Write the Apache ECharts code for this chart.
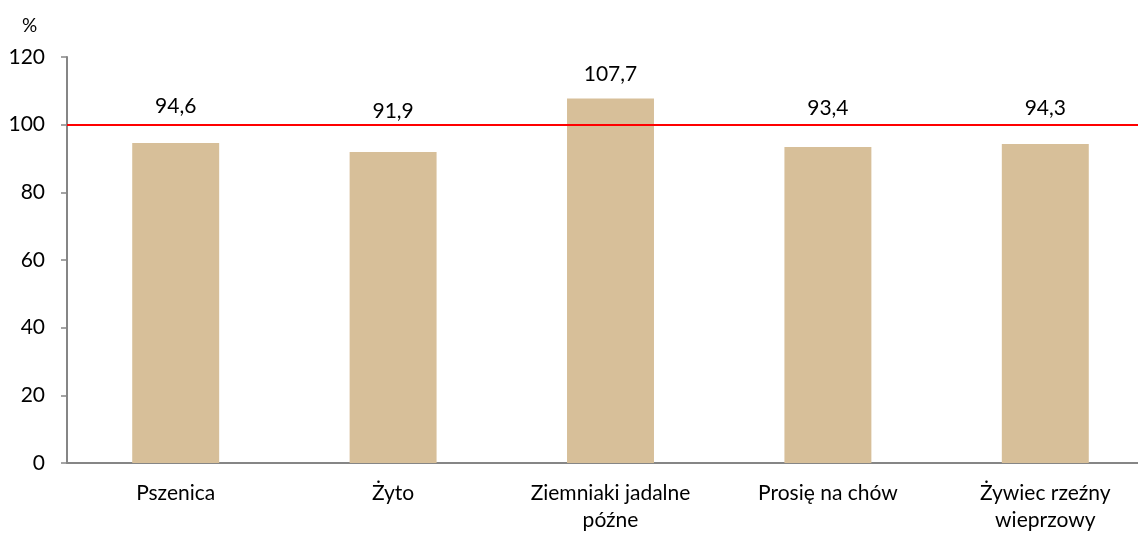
<!DOCTYPE html>
<html>
  <head>
    <meta charset="utf-8" />
    <title>ECharts</title>
    <script src="https://cdn.jsdelivr.net/npm/echarts@6/dist/echarts.min.js"></script>
    <style>
      html, body { margin: 0; padding: 0; background: #fff; overflow: hidden; }
    </style>
  </head>
  <body>
    <!-- wykres jest przycięty z prawej, tak jak w oryginale -->
    <div id="main" style="width: 1154px;height:534px;"></div>
    <script type="text/javascript">
        // dane
        var categories = ['Pszenica', 'Żyto', 'Ziemniaki jadalne\npóźne', 'Prosię na chów', 'Żywiec rzeźny\nwieprzowy'];
        var values = [94.6, 91.9, 107.7, 93.4, 94.3];
        var yTicks = [0, 20, 40, 60, 80, 100, 120];
        var referenceLevel = 100;

        // odstęp etykiet od słupka (styl, nie dane)
        var labelGap = [26, 30, 14, 28, 25];

        var font = 'Lato';
        var fs = 21;
        var myChart = echarts.init(document.getElementById('main'));

        var barData = values.map(function (v, i) {
            return { value: v, label: { distance: labelGap[i] } };
        });

        var option = {
            animation: false,
            textStyle: { fontFamily: font },
            grid: { left: 67, right: 0, top: 57, bottom: 67 },
            graphic: [{
                type: 'text',
                left: 22,
                top: 16,
                style: { text: '%', fontSize: 19, fontFamily: font, fill: '#000' }
            }],
            xAxis: {
                type: 'category',
                data: categories,
                axisLine: { lineStyle: { color: '#868686', width: 2 } },
                axisTick: { show: false },
                axisLabel: {
                    color: '#000', fontSize: fs, fontFamily: font,
                    margin: 17, lineHeight: 27, interval: 0
                }
            },
            yAxis: {
                type: 'value',
                min: yTicks[0],
                max: yTicks[yTicks.length - 1],
                interval: yTicks[1] - yTicks[0],
                splitLine: { show: false },
                axisLine: { show: true, lineStyle: { color: '#868686', width: 2 } },
                axisTick: { show: true, length: 6, lineStyle: { color: '#868686', width: 1.5 } },
                axisLabel: { color: '#000', fontSize: fs, fontFamily: font, margin: 22 }
            },
            series: [{
                type: 'bar',
                data: barData,
                barWidth: '40%',
                itemStyle: { color: '#D7BF99' },
                label: {
                    show: true,
                    position: 'top',
                    color: '#000',
                    fontSize: fs,
                    fontFamily: font,
                    formatter: function (p) { return p.value.toFixed(1).replace('.', ','); }
                },
                markLine: {
                    silent: true,
                    symbol: 'none',
                    label: { show: false },
                    lineStyle: { color: '#FF0000', width: 2, type: 'solid' },
                    data: [{ yAxis: referenceLevel }]
                }
            }]
        };

        myChart.setOption(option);
    </script>
  </body>
</html>
